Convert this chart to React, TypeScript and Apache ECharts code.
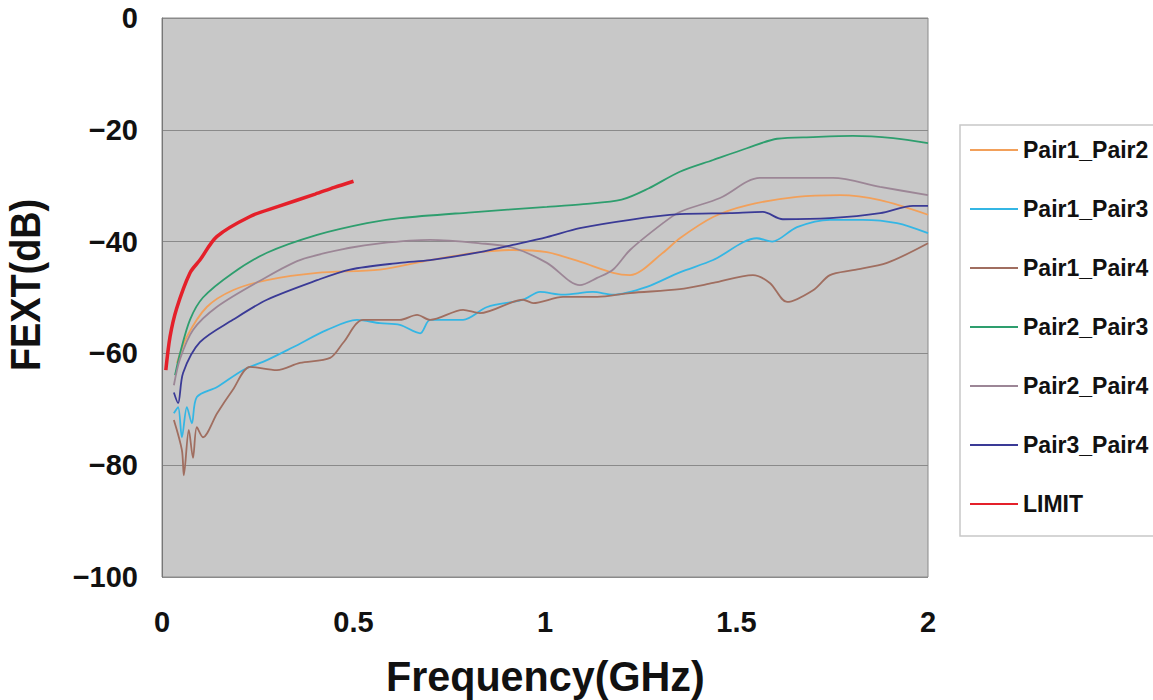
import React, { useEffect, useRef } from "react";
import * as echarts from "echarts";

const seriesNames = ["Pair1_Pair2", "Pair1_Pair3", "Pair1_Pair4", "Pair2_Pair3", "Pair2_Pair4", "Pair3_Pair4", "LIMIT"];
const seriesColors = ["#F2A05A", "#34B6E4", "#A06E60", "#2E9E6E", "#9C8696", "#3A3A96", "#E4202A"];

const p12X = [0.039, 0.065, 0.117, 0.185, 0.274, 0.405, 0.569, 0.7, 0.83, 0.916, 1.005, 1.091, 1.178, 1.222, 1.308, 1.352, 1.439, 1.527, 1.658, 1.77, 1.875, 2.0];
const p12Y = [-61.7, -57, -51.7, -48.7, -46.9, -45.6, -45, -43.3, -41.9, -41.5, -41.9, -43.6, -45.6, -46, -42, -39.4, -35.6, -33.5, -32, -31.7, -32.6, -35.2];

const p13X = [0.031, 0.042, 0.052, 0.065, 0.078, 0.091, 0.144, 0.211, 0.274, 0.342, 0.431, 0.509, 0.569, 0.621, 0.674, 0.7, 0.786, 0.849, 0.943, 0.987, 1.047, 1.125, 1.178, 1.266, 1.352, 1.439, 1.553, 1.593, 1.658, 1.744, 1.83, 1.919, 2.0];
const p13Y = [-70.7, -69.6, -75, -69.6, -72.5, -67.8, -66, -63, -61.2, -58.9, -55.8, -54, -54.6, -54.9, -56.4, -54, -54, -51.7, -50.4, -49, -49.5, -49, -49.5, -48.1, -45.5, -43.3, -39.4, -40, -37.4, -36.1, -36.1, -36.7, -38.5];

const p14X = [0.031, 0.052, 0.057, 0.07, 0.081, 0.091, 0.107, 0.144, 0.185, 0.23, 0.3, 0.36, 0.439, 0.473, 0.525, 0.621, 0.666, 0.7, 0.786, 0.83, 0.943, 0.969, 1.047, 1.136, 1.222, 1.352, 1.439, 1.543, 1.587, 1.632, 1.7, 1.744, 1.804, 1.893, 2.0];
const p14Y = [-71.9, -77.3, -81.8, -73.7, -78.7, -73.2, -75, -70.7, -66.5, -62.4, -63, -61.7, -60.8, -58.1, -54, -54, -53.1, -54, -52.2, -52.8, -50.4, -51, -49.9, -49.9, -49.2, -48.5, -47.4, -46, -47.4, -50.8, -48.7, -46, -45.1, -43.8, -40.3];

const p23X = [0.034, 0.047, 0.073, 0.107, 0.185, 0.274, 0.405, 0.535, 0.621, 0.8, 1.005, 1.1, 1.2, 1.27, 1.352, 1.439, 1.527, 1.606, 1.7, 1.804, 1.909, 2.0];
const p23Y = [-63.9, -60, -54, -50, -45.6, -42, -38.8, -36.7, -35.8, -34.8, -33.8, -33.3, -32.5, -30.5, -27.5, -25.4, -23.3, -21.6, -21.3, -21.1, -21.5, -22.4];

const p24X = [0.031, 0.047, 0.081, 0.143, 0.256, 0.36, 0.491, 0.569, 0.7, 0.83, 0.916, 1.005, 1.091, 1.136, 1.178, 1.222, 1.308, 1.352, 1.457, 1.561, 1.752, 1.875, 2.0];
const p24Y = [-65.7, -61, -55.8, -51.7, -47, -43.3, -41.1, -40.3, -39.7, -40.3, -41.1, -43.8, -47.8, -46.5, -45, -41.5, -36.7, -34.7, -32.2, -28.6, -28.6, -30.2, -31.7];

const p34X = [0.031, 0.042, 0.055, 0.099, 0.185, 0.274, 0.405, 0.491, 0.621, 0.7, 0.83, 0.916, 1.005, 1.091, 1.222, 1.352, 1.483, 1.569, 1.621, 1.744, 1.875, 1.961, 2.0];
const p34Y = [-67, -68.9, -63.5, -58, -54, -50.4, -46.9, -45, -43.8, -43.3, -41.9, -40.6, -39.2, -37.6, -36.1, -35.1, -34.9, -34.7, -36, -35.8, -34.9, -33.6, -33.6];

const limX = [0.01, 0.021, 0.038, 0.073, 0.099, 0.143, 0.23, 0.3, 0.4, 0.45, 0.5];
const limY = [-63, -57, -52, -45.6, -43.3, -39.1, -35.5, -33.8, -31.5, -30.3, -29.2];

const xTicks = [0, 0.5, 1, 1.5, 2];
const yTicks = [0, -20, -40, -60, -80, -100];

const allX = [p12X, p13X, p14X, p23X, p24X, p34X, limX];
const allY = [p12Y, p13Y, p14Y, p23Y, p24Y, p34Y, limY];

export default function App() {
  const ref = useRef<HTMLDivElement>(null);
  useEffect(() => {
    if (!ref.current) return;
    const chart = echarts.init(ref.current, undefined, { renderer: "svg" });
    const font = "'Liberation Sans', Arial, sans-serif";
    chart.setOption({
      animation: false,
      backgroundColor: "#ffffff",
      grid: {
        left: 162,
        right: 225,
        top: 18,
        bottom: 123,
        show: true,
        backgroundColor: "#C8C8C8",
        borderColor: "#8A8A8A",
        borderWidth: 1,
      },
      graphic: [
        {
          type: "rect",
          z: 0,
          shape: { x: 960, y: 125, width: 200, height: 411 },
          style: { fill: "#ffffff", stroke: "#C8C8C8", lineWidth: 1.5 },
        },
        {
          type: "text",
          x: 386,
          y: 655,
          scaleX: 0.96,
          style: {
            text: "Frequency(GHz)",
            font: "bold 43px 'Liberation Sans', Arial, sans-serif",
            fill: "#111",
          },
        },
        {
          type: "text",
          x: 4,
          y: 371,
          rotation: Math.PI / 2,
          scaleX: 0.9,
          style: {
            text: "FEXT(dB)",
            font: "bold 42px 'Liberation Sans', Arial, sans-serif",
            fill: "#111",
          },
        },
      ],
      legend: {
        orient: "vertical",
        left: 965,
        top: 133,
        itemWidth: 48,
        itemHeight: 2,
        itemGap: 35,
        icon: "rect",
        data: seriesNames,
        textStyle: { fontSize: 23, lineHeight: 24, fontFamily: font, color: "#111", fontWeight: "bold" },
      },
      xAxis: {
        type: "value",
        min: 0,
        max: 2,
        interval: 0.5,
        axisLine: { show: false },
        axisTick: { show: false },
        splitLine: { show: false },
        axisLabel: {
          margin: 30,
          fontSize: 29,
          fontFamily: font,
          fontWeight: "bold",
          color: "#111",
          formatter: (v: number) => (xTicks.includes(v) ? String(v) : ""),
        },
      },
      yAxis: {
        type: "value",
        min: -100,
        max: 0,
        interval: 20,
        axisLine: { show: true, lineStyle: { color: "#777" } },
        axisTick: { show: false },
        splitLine: { show: true, lineStyle: { color: "#8A8A8A", width: 1 } },
        axisLabel: {
          margin: 24,
          fontSize: 29,
          fontFamily: font,
          fontWeight: "bold",
          color: "#111",
          formatter: (v: number) => (yTicks.includes(v) ? String(v).replace("-", "−") : ""),
        },
      },
      series: seriesNames.map((name, i) => ({
        name,
        type: "line",
        symbol: "none",
        smooth: 0.3,
        color: seriesColors[i],
        lineStyle: { color: seriesColors[i], width: name === "LIMIT" ? 3.5 : 1.8 },
        data: allX[i].map((x, k) => [x, allY[i][k]]),
        z: name === "LIMIT" ? 3 : 2,
      })),
    });
    return () => chart.dispose();
  }, []);
  return <div ref={ref} style={{ width: 1153, height: 700, position: "absolute", left: 0, top: 0 }} />;
}
